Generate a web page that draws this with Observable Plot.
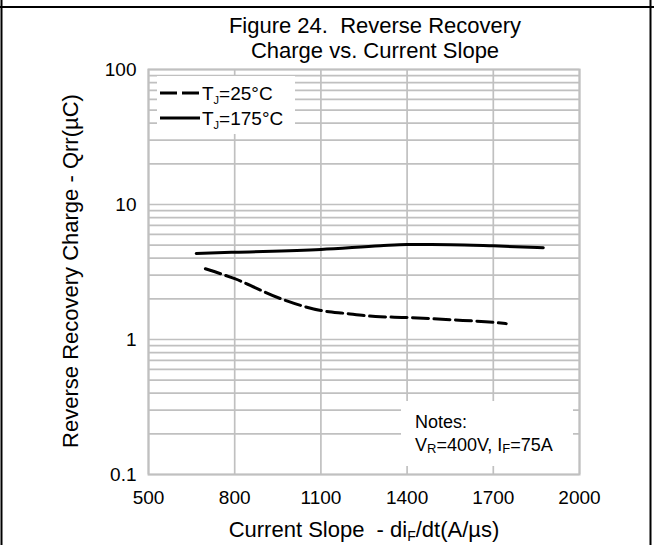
<!DOCTYPE html>
<html><head><meta charset="utf-8">
<script src="https://cdn.jsdelivr.net/npm/d3@7"></script>
<script src="https://cdn.jsdelivr.net/npm/@observablehq/plot@0.6"></script>
<style>body{margin:0;background:#fff} #chart{width:654px;height:545px}</style>
</head><body><div id="chart"></div>
<script>
// Data
const slope25 = [698, 800, 959, 1100, 1186, 1290, 1400, 1551, 1700, 1745];
const qrr25   = [3.34, 2.82, 2.01, 1.64, 1.56, 1.48, 1.455, 1.40, 1.34, 1.31];
const slope175 = [666, 800, 1100, 1307, 1400, 1551, 1700, 1874];
const qrr175   = [4.34, 4.43, 4.64, 4.94, 5.05, 5.04, 4.94, 4.78];
const xTicks = [500, 800, 1100, 1400, 1700, 2000];
const yTicks = [0.1, 1, 10, 100];
const yGrid = [0.1,0.2,0.3,0.4,0.5,0.6,0.7,0.8,0.9,1,2,3,4,5,6,7,8,9,10,20,30,40,50,60,70,80,90,100];

const FONT = "'Liberation Sans', Arial, sans-serif";
const d25 = slope25.map((x, i) => ({x, y: qrr25[i]}));
const d175 = slope175.map((x, i) => ({x, y: qrr175[i]}));
const GRID = "#c0c0c0";

const plot = Plot.plot({
  width: 654, height: 545,
  marginLeft: 148, marginRight: 75, marginTop: 69, marginBottom: 71,
  style: {fontFamily: FONT, fontSize: "19px", color: "#000", background: "#fff", overflow: "visible"},
  x: {domain: [500, 2000]},
  y: {type: "log", domain: [0.1, 100]},
  marks: [
    Plot.gridY(yGrid, {stroke: GRID, strokeOpacity: 1, strokeWidth: 1.7}),
    Plot.gridX(xTicks, {stroke: GRID, strokeOpacity: 1, strokeWidth: 1.7}),
    Plot.frame({stroke: GRID, strokeWidth: 2}),
    Plot.axisY(yTicks, {tickSize: 0, tickPadding: 12, tickFormat: d => String(d), label: null, fontSize: 19, fill: "#000"}),
    Plot.axisX(xTicks, {tickSize: 0, tickPadding: 16, tickFormat: d => String(d), label: null, fontSize: 19, fill: "#000"}),
    Plot.line(d175, {x: "x", y: "y", stroke: "#000", strokeWidth: 3, curve: "monotone-x"}),
    Plot.line(d25, {x: "x", y: "y", stroke: "#000", strokeWidth: 3, strokeDasharray: "16,5.5", curve: "monotone-x"})
  ]
});
document.getElementById("chart").appendChild(plot);

const svg = d3.select(plot);
// outer table-cell border
svg.append("line").attr("x1", 0).attr("x2", 654).attr("y1", 7).attr("y2", 7).attr("stroke", "#000").attr("stroke-width", 2);
svg.append("line").attr("x1", 1.5).attr("x2", 1.5).attr("y1", 0).attr("y2", 545).attr("stroke", "#000").attr("stroke-width", 2);
svg.append("line").attr("x1", 650.5).attr("x2", 650.5).attr("y1", 0).attr("y2", 545).attr("stroke", "#000").attr("stroke-width", 2);

const txt = (x, y, s, size, anchor = "middle") => svg.append("text")
  .attr("x", x).attr("y", y).attr("dy", "0.35em").attr("text-anchor", anchor)
  .attr("font-family", FONT).attr("font-size", size).attr("fill", "#000").text(s);

// title
txt(375, 25, "Figure 24.  Reverse Recovery", 22);
txt(375, 50, "Charge vs. Current Slope", 22);

// x-axis label
const xl = txt(364, 529, "Current Slope  - di", 22);
xl.append("tspan").attr("font-size", 14).attr("dy", 4).text("F");
xl.append("tspan").attr("dy", -4).text("/dt(A/µs)");

// y-axis label
svg.append("text").attr("transform", "translate(70,271) rotate(-90)").attr("dy", "0.35em")
  .attr("text-anchor", "middle").attr("font-family", FONT).attr("font-size", 22).attr("fill", "#000")
  .text("Reverse Recovery Charge - Qrr(µC)");

// legend
svg.append("rect").attr("x", 157).attr("y", 76).attr("width", 138).attr("height", 58).attr("fill", "#fff");
svg.append("line").attr("x1", 160).attr("x2", 200).attr("y1", 93).attr("y2", 93).attr("stroke", "#000").attr("stroke-width", 3).attr("stroke-dasharray", "17,5");
svg.append("line").attr("x1", 160).attr("x2", 200).attr("y1", 118).attr("y2", 118).attr("stroke", "#000").attr("stroke-width", 3);
const l1 = txt(202, 93, "T", 19, "start");
l1.append("tspan").attr("font-size", 11).attr("dy", 4).text("J");
l1.append("tspan").attr("dy", -4).text("=25°C");
const l2 = txt(202, 118, "T", 19, "start");
l2.append("tspan").attr("font-size", 11).attr("dy", 4).text("J");
l2.append("tspan").attr("dy", -4).text("=175°C");

// notes box
svg.append("rect").attr("x", 401).attr("y", 401).attr("width", 172).attr("height", 65).attr("fill", "#fff");
txt(415, 422, "Notes:", 18, "start");
const n2 = txt(415, 445, "V", 18, "start");
n2.append("tspan").attr("font-size", 13).attr("dy", 2).text("R");
n2.append("tspan").attr("dy", -2).text("=400V, I");
n2.append("tspan").attr("font-size", 13).attr("dy", 2).text("F");
n2.append("tspan").attr("dy", -2).text("=75A");
</script>
</body></html>
